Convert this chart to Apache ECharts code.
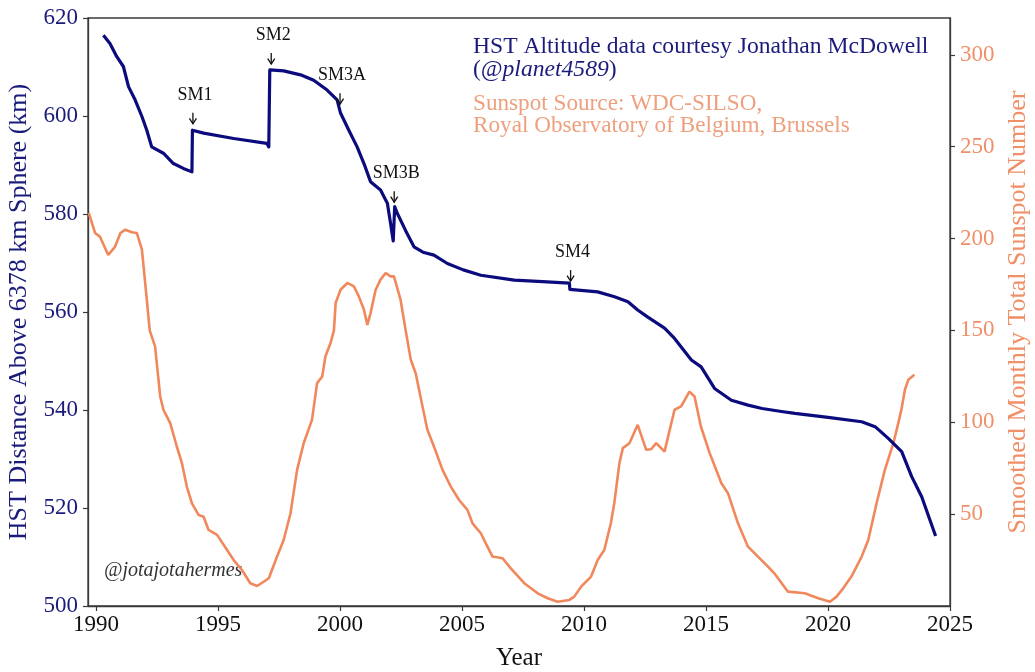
<!DOCTYPE html>
<html>
<head>
<meta charset="utf-8">
<script src="https://cdn.jsdelivr.net/npm/echarts@6/dist/echarts.min.js"></script>
<style>html,body{margin:0;padding:0;background:#fff}#c{width:1035px;height:672px}</style>
</head>
<body>
<div id="c"></div>
<script>
// HST altitude (km) vs decimal year
const altYears = [1990.3,1990.57,1990.85,1991.12,1991.33,1991.6,1991.88,1992.08,1992.28,1992.76,1993.17,1993.58,1993.93,1993.95,1994.41,1995.64,1997.0,1997.08,1997.12,1997.69,1998.38,1998.92,1999.47,1999.88,2000.02,2000.36,2000.7,2000.98,2001.25,2001.66,2001.94,2002.07,2002.18,2002.24,2002.35,2002.69,2003.03,2003.4,2003.85,2004.4,2005.05,2005.77,2007.14,2008.3,2009.4,2009.42,2010.56,2011.25,2011.8,2012.2,2012.6,2013.3,2013.71,2014.4,2014.8,2015.35,2016.04,2016.72,2017.3,2018.09,2018.64,2020.0,2021.38,2021.93,2022.47,2023.02,2023.43,2023.84,2024.41];
const altValues = [616.5,614.8,612.1,610.1,606.0,603.3,599.9,597.1,593.7,592.4,590.3,589.3,588.6,597.1,596.5,595.4,594.4,593.7,609.4,609.2,608.4,607.3,605.3,603.3,600.6,597.1,593.7,590.3,586.6,584.9,582.2,578.1,574.5,581.5,580.1,576.6,573.3,572.2,571.6,569.9,568.6,567.5,566.5,566.2,565.9,564.6,564.1,563.1,562.1,560.4,559.0,556.7,554.6,550.2,548.8,544.4,542.0,541.0,540.3,539.7,539.3,538.5,537.6,536.6,534.2,531.5,526.4,522.3,514.3];

// Smoothed monthly total sunspot number vs decimal year
const sunYears = [1989.7,1989.96,1990.16,1990.5,1990.78,1991.0,1991.2,1991.47,1991.67,1991.88,1992.08,1992.2,1992.42,1992.63,1992.76,1993.04,1993.31,1993.52,1993.72,1993.93,1994.2,1994.41,1994.61,1994.96,1995.37,1995.64,1995.98,1996.32,1996.6,1996.87,1997.08,1997.42,1997.69,1997.97,1998.24,1998.51,1998.85,1999.06,1999.27,1999.4,1999.61,1999.75,1999.82,2000.02,2000.3,2000.57,2000.77,2000.98,2001.12,2001.25,2001.46,2001.66,2001.87,2002.07,2002.21,2002.48,2002.69,2002.9,2003.1,2003.38,2003.58,2003.85,2004.2,2004.54,2004.88,2005.22,2005.43,2005.77,2005.97,2006.25,2006.66,2007.0,2007.55,2008.1,2008.51,2008.92,2009.4,2009.6,2009.88,2010.29,2010.56,2010.83,2011.1,2011.24,2011.45,2011.59,2011.86,2012.2,2012.55,2012.75,2012.96,2013.3,2013.71,2013.98,2014.32,2014.53,2014.79,2015.15,2015.63,2015.9,2016.31,2016.72,2017.13,2017.5,2017.8,2018.36,2019.05,2019.6,2020.08,2020.35,2020.62,2020.96,2021.38,2021.65,2021.99,2022.33,2022.68,2022.88,2023.02,2023.15,2023.29,2023.54];
const sunValues = [213.9,203.0,201.0,191.0,195.6,203.0,204.8,203.4,203.0,193.9,166.7,150.0,141.2,114.0,106.8,99.5,86.8,77.7,65.0,55.9,49.6,48.6,41.4,38.7,30.5,25.0,19.6,12.4,10.9,13.2,15.1,26.9,35.9,50.5,74.1,88.6,101.3,121.3,124.9,135.8,143.1,150.0,164.9,172.1,175.8,173.9,168.5,161.2,153.0,159.4,172.1,177.6,181.2,179.4,179.4,166.7,150.0,134.0,126.7,108.6,95.9,86.8,74.1,65.0,57.7,52.3,45.0,39.6,34.2,26.9,26.0,20.5,12.4,6.9,4.2,2.3,3.3,5.1,10.5,16.0,25.0,30.5,45.0,55.9,77.7,85.9,88.6,98.6,85.0,85.3,88.6,84.0,106.8,108.6,116.7,114.0,97.7,83.2,66.8,61.4,45.0,32.3,26.9,22.0,17.8,7.8,6.9,4.2,2.3,5.1,9.6,16.0,26.9,35.9,55.9,74.1,88.6,99.5,107.7,117.6,123.1,125.8];

// Servicing mission annotations (arrow tip in data coordinates)
const smLabels = ['SM1','SM2','SM3A','SM3B','SM4'];
const smYears = [1993.97,1997.18,2000.0,2002.22,2009.45];
const smAlt = [598.2,610.4,602.2,582.2,566.1];

// Tick labels
const xTicks = [1990,1995,2000,2005,2010,2015,2020,2025];
const leftTicks = [500,520,540,560,580,600,620];
const rightTicks = [50,100,150,200,250,300];

const NAVY_LINE = '#0b0b7e';
const NAVY_TEXT = '#1b1b7c';
const ORANGE_LINE = '#f0885c';
const ORANGE_TEXT = '#ef9068';
const FONT = '"Liberation Serif", "Times New Roman", serif';

const altData = altYears.map((y, i) => [y, altValues[i]]);
const sunData = sunYears.map((y, i) => [y, sunValues[i]]);
const smData = smYears.map((y, i) => [y, smAlt[i], smLabels[i]]);

const chart = echarts.init(document.getElementById('c'), null, {renderer: 'canvas'});
chart.setOption({
  backgroundColor: '#fff',
  animation: false,
  textStyle: {fontFamily: FONT},
  grid: {left: 88, right: 85, top: 18, bottom: 66, containLabel: false, outerBoundsMode: 'none', show: true, borderColor: '#3a3a3a', borderWidth: 1.3, backgroundColor: 'transparent'},
  xAxis: {
    type: 'value', min: 1989.67, max: 2025,
    name: 'Year', nameLocation: 'middle', nameGap: 40,
    nameTextStyle: {fontFamily: FONT, fontSize: 25, color: '#111'},
    axisLine: {show: true, lineStyle: {color: '#3a3a3a', width: 1.3}},
    axisTick: {show: true, length: 5, customValues: xTicks, lineStyle: {color: '#3a3a3a', width: 1.2}},
    axisLabel: {customValues: xTicks, formatter: v => String(v), fontFamily: FONT, fontSize: 23, color: '#111', margin: 7},
    splitLine: {show: false}
  },
  yAxis: [{
    type: 'value', min: 500, max: 620, interval: 20, position: 'left',
    name: 'HST Distance Above 6378 km Sphere (km)', nameLocation: 'middle', nameGap: 54,
    nameTextStyle: {fontFamily: FONT, fontSize: 26, color: NAVY_TEXT},
    axisLine: {show: true, lineStyle: {color: '#3a3a3a', width: 1.3}},
    axisTick: {show: true, length: 5, customValues: leftTicks, lineStyle: {color: '#3a3a3a', width: 1.2}},
    axisLabel: {customValues: leftTicks, formatter: v => String(v), fontFamily: FONT, fontSize: 23, color: NAVY_TEXT, margin: 10},
    splitLine: {show: false}
  }, {
    type: 'value', min: 0, max: 320, position: 'right',
    name: 'Smoothed Monthly Total Sunspot Number', nameLocation: 'middle', nameGap: 49,
    nameTextStyle: {fontFamily: FONT, fontSize: 26, color: ORANGE_TEXT},
    axisLine: {show: true, lineStyle: {color: '#3a3a3a', width: 1.3}},
    axisTick: {show: true, length: 5, customValues: rightTicks, lineStyle: {color: '#3a3a3a', width: 1.2}},
    axisLabel: {customValues: rightTicks, formatter: v => String(v), fontFamily: FONT, fontSize: 23, color: ORANGE_TEXT, margin: 10},
    splitLine: {show: false}
  }],
  series: [{
    name: 'Sunspots', type: 'line', yAxisIndex: 1, data: sunData,
    showSymbol: false, smooth: false, clip: true,
    lineStyle: {color: ORANGE_LINE, width: 2.6}, z: 2
  }, {
    name: 'HST', type: 'line', yAxisIndex: 0, data: altData,
    showSymbol: false, smooth: false, clip: true,
    lineStyle: {color: NAVY_LINE, width: 3.2, join: 'round'}, z: 3
  }, {
    name: 'SM', type: 'custom', yAxisIndex: 0, data: smData, z: 4,
    renderItem: function (params, api) {
      const p = api.coord([api.value(0), api.value(1)]);
      const tipY = p[1] - 1, topY = p[1] - 12;
      return {
        type: 'group',
        children: [
          {type: 'line', shape: {x1: p[0], y1: topY, x2: p[0], y2: tipY}, style: {stroke: '#111', lineWidth: 1.3}},
          {type: 'polyline', shape: {points: [[p[0] - 3.5, tipY - 5.5], [p[0], tipY], [p[0] + 3.5, tipY - 5.5]]}, style: {stroke: '#111', lineWidth: 1.3, fill: null}},
          {type: 'text', style: {text: smData[params.dataIndex][2], x: p[0] + 2, y: p[1] - 30, align: 'center', verticalAlign: 'middle', fontFamily: FONT, fontSize: 18, fill: '#111'}}
        ]
      };
    }
  }],
  graphic: [
    {type: 'text', left: 473, top: 35, style: {text: 'HST Altitude data courtesy Jonathan McDowell', fontFamily: FONT, fontSize: 23.6, fill: NAVY_TEXT}},
    {type: 'text', left: 473, top: 58, style: {text: '({i|@planet4589})', fontFamily: FONT, fontSize: 23.6, fill: NAVY_TEXT, rich: {i: {fontFamily: FONT, fontStyle: 'italic', fontSize: 23.6, fill: NAVY_TEXT}}}},
    {type: 'text', left: 473, top: 92, style: {text: 'Sunspot Source: WDC-SILSO,', fontFamily: FONT, fontSize: 23.2, fill: '#eea07e'}},
    {type: 'text', left: 473, top: 114, style: {text: 'Royal Observatory of Belgium, Brussels', fontFamily: FONT, fontSize: 23.2, fill: '#eea07e'}},
    {type: 'text', left: 104, top: 561, style: {text: '@jotajotahermes', fontFamily: FONT, fontStyle: 'italic', fontSize: 20, fill: '#333'}}
  ]
});
</script>
</body>
</html>
